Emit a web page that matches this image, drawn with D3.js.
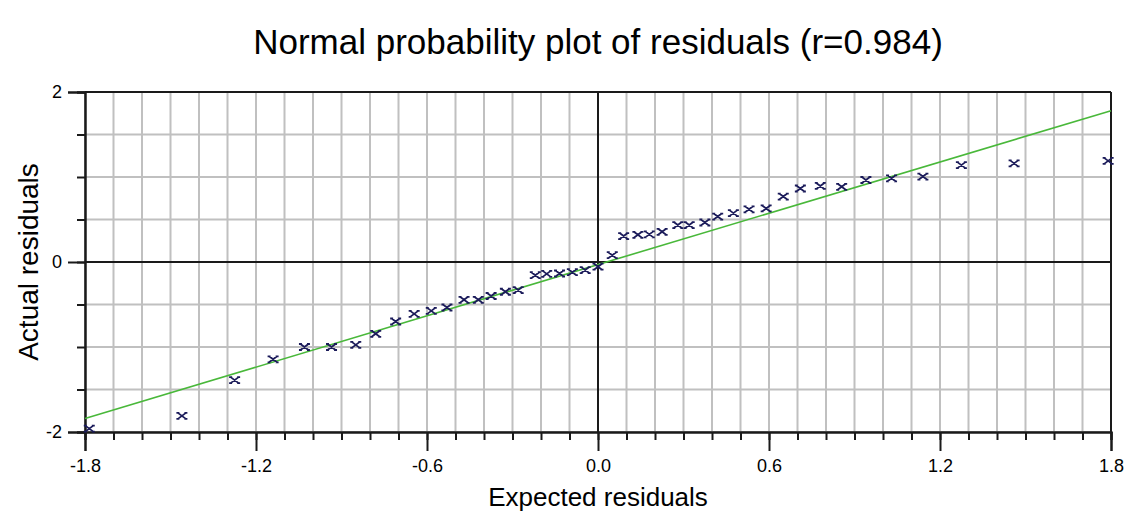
<!DOCTYPE html>
<html>
<head>
<meta charset="utf-8">
<script src="https://cdn.jsdelivr.net/npm/d3@7"></script>
<style>
  html, body { margin: 0; padding: 0; background: #ffffff; }
  svg { display: block; }
  text { font-family: "Liberation Sans", Arial, sans-serif; fill: #000; }
</style>
</head>
<body>
<svg id="chart" width="1128" height="514"></svg>
<script>
// Expected (normal scores) and actual residuals
const expected = [-1.785, -1.46, -1.275, -1.14, -1.03, -0.935, -0.85, -0.78, -0.71, -0.645,
  -0.585, -0.53, -0.47, -0.42, -0.375, -0.325, -0.28, -0.22, -0.18, -0.135,
  -0.09, -0.045, 0.0, 0.05, 0.09, 0.14, 0.18, 0.225, 0.28, 0.32,
  0.375, 0.42, 0.475, 0.53, 0.59, 0.65, 0.71, 0.78, 0.855, 0.94,
  1.03, 1.14, 1.275, 1.46, 1.79];
const actual = [-1.96, -1.81, -1.39, -1.145, -1.0, -1.0, -0.975, -0.845, -0.70, -0.61,
  -0.575, -0.535, -0.445, -0.445, -0.40, -0.35, -0.33, -0.155, -0.14, -0.135,
  -0.12, -0.095, -0.055, 0.08, 0.305, 0.32, 0.325, 0.355, 0.435, 0.435,
  0.465, 0.535, 0.575, 0.62, 0.63, 0.77, 0.865, 0.895, 0.885, 0.965,
  0.985, 1.005, 1.14, 1.16, 1.19];

// Fitted reference line end points
const fitX = [-1.8, 1.8];
const fitY = [-1.84, 1.78];

// Axis ticks
const xMinorTicks = d3.range(-18, 19).map(d => d / 10);
const xMajorTicks = [-1.8, -1.2, -0.6, 0.0, 0.6, 1.2, 1.8];
const xTickLabels = ["-1.8", "-1.2", "-0.6", "0.0", "0.6", "1.2", "1.8"];
const yMinorTicks = [-2, -1.5, -1, -0.5, 0, 0.5, 1, 1.5, 2];
const yMajorTicks = [-2, 0, 2];
const yTickLabels = ["-2", "0", "2"];

const titleText = "Normal probability plot of residuals (r=0.984)";
const xTitle = "Expected residuals";
const yTitle = "Actual residuals";

const svg = d3.select("#chart");
const plotLeft = 85, plotRight = 1111, plotTop = 92, plotBottom = 432;

const x = d3.scaleLinear().domain([-1.8, 1.8]).range([plotLeft, plotRight]);
const y = d3.scaleLinear().domain([-2, 2]).range([plotBottom, plotTop]);

const gridColor = "#c0c0c0";
const axisColor = "#1a1a1a";
const fontStack = "Liberation Sans, Arial, sans-serif";

// Grid
const grid = svg.append("g");
grid.selectAll("line.vx").data(xMinorTicks).join("line")
  .attr("x1", d => x(d)).attr("x2", d => x(d))
  .attr("y1", plotTop).attr("y2", plotBottom)
  .attr("stroke", gridColor).attr("stroke-width", 2);
grid.selectAll("line.hy").data(yMinorTicks).join("line")
  .attr("x1", plotLeft).attr("x2", plotRight)
  .attr("y1", d => y(d)).attr("y2", d => y(d))
  .attr("stroke", gridColor).attr("stroke-width", 2);

// Zero lines
svg.append("line").attr("x1", plotLeft).attr("x2", plotRight)
  .attr("y1", y(0)).attr("y2", y(0)).attr("stroke", axisColor).attr("stroke-width", 2);
svg.append("line").attr("x1", x(0)).attr("x2", x(0))
  .attr("y1", plotTop).attr("y2", plotBottom).attr("stroke", axisColor).attr("stroke-width", 2);

// Frame: top and right borders
svg.append("line").attr("x1", plotLeft).attr("x2", plotRight)
  .attr("y1", plotTop).attr("y2", plotTop).attr("stroke", axisColor).attr("stroke-width", 2);
svg.append("line").attr("x1", plotRight).attr("x2", plotRight)
  .attr("y1", plotTop).attr("y2", plotBottom).attr("stroke", axisColor).attr("stroke-width", 2);

// Bottom axis
const xAxisMinor = d3.axisBottom(x).tickValues(xMinorTicks).tickSize(8).tickFormat("");
const xAxisMajor = d3.axisBottom(x).tickValues(xMajorTicks).tickSize(19)
  .tickFormat((d, i) => xTickLabels[i]).tickPadding(8);
const gxm = svg.append("g").attr("transform", `translate(0,${plotBottom})`).call(xAxisMinor);
const gxM = svg.append("g").attr("transform", `translate(0,${plotBottom})`).call(xAxisMajor);
[gxm, gxM].forEach(g => {
  g.select(".domain").attr("stroke", axisColor).attr("stroke-width", 2);
  g.selectAll(".tick line").attr("stroke", axisColor).attr("stroke-width", 2);
});
gxM.selectAll(".tick text").style("font-size", "18px").style("font-family", fontStack).attr("fill", "#000");

// Left axis
const yAxisMinor = d3.axisLeft(y).tickValues(yMinorTicks).tickSize(8).tickFormat("");
const yAxisMajor = d3.axisLeft(y).tickValues(yMajorTicks).tickSize(17)
  .tickFormat((d, i) => yTickLabels[i]).tickPadding(6);
const gym = svg.append("g").attr("transform", `translate(${plotLeft},0)`).call(yAxisMinor);
const gyM = svg.append("g").attr("transform", `translate(${plotLeft},0)`).call(yAxisMajor);
[gym, gyM].forEach(g => {
  g.select(".domain").attr("stroke", axisColor).attr("stroke-width", 2);
  g.selectAll(".tick line").attr("stroke", axisColor).attr("stroke-width", 2);
});
gyM.selectAll(".tick text").style("font-size", "18px").style("font-family", fontStack).attr("fill", "#000");

// Fitted line
svg.append("line")
  .attr("x1", x(fitX[0])).attr("y1", y(fitY[0]))
  .attr("x2", x(fitX[1])).attr("y2", y(fitY[1]))
  .attr("stroke", "#49b83a").attr("stroke-width", 1.6);

// Residual markers: small crosses with serif caps
const marker = "M-4,-3L4,3M-4,3L4,-3M-5.5,-3L-2.5,-3M2.5,-3L5.5,-3M-5.5,3L-2.5,3M2.5,3L5.5,3";
svg.append("g").selectAll("path").data(expected).join("path")
  .attr("transform", (d, i) => `translate(${x(d)},${y(actual[i])})`)
  .attr("d", marker)
  .attr("fill", "none")
  .attr("stroke", "#1b1b5a")
  .attr("stroke-width", 1.8);

// Titles
svg.append("text").attr("x", 598).attr("y", 54).attr("text-anchor", "middle")
  .style("font-size", "35px").text(titleText);
svg.append("text").attr("x", 598).attr("y", 506).attr("text-anchor", "middle")
  .style("font-size", "26px").text(xTitle);
svg.append("text").attr("transform", "translate(38,262) rotate(-90)").attr("text-anchor", "middle")
  .style("font-size", "28px").text(yTitle);
</script>
</body>
</html>
